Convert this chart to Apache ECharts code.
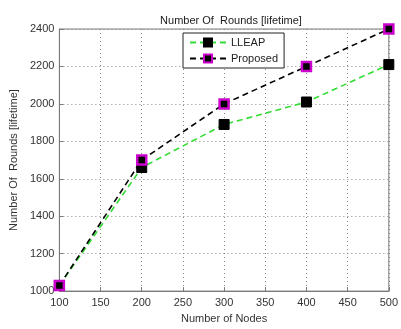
<!DOCTYPE html>
<html>
<head>
<meta charset="utf-8">
<script src="https://cdn.jsdelivr.net/npm/echarts@6/dist/echarts.min.js"></script>
<style>
  html, body { margin: 0; padding: 0; background: #fff; }
  #chart { width: 401px; height: 329px; }
</style>
</head>
<body>
<div id="chart"></div>
<script>
const nodes = [100, 200, 300, 400, 500];
const lleap = [1030, 1660, 1890, 2010, 2210];
const proposed = [1030, 1700, 2000, 2200, 2400];

const font = 'Liberation Sans, Arial, sans-serif';

function pairs(xs, ys) {
  return xs.map((x, i) => [x, ys[i]]);
}

const option = {
  animation: false,
  backgroundColor: '#fff',
  title: {
    text: 'Number Of  Rounds [lifetime]',
    left: 226,
    top: 10,
    textAlign: 'center',
    textStyle: { fontFamily: font, fontSize: 11, fontWeight: 'normal', color: '#222' },
  },
  legend: {
    orient: 'vertical',
    left: 183,
    top: 33,
    padding: [4, 6, 4, 6],
    itemGap: 5,
    itemWidth: 36,
    itemHeight: 10,
    backgroundColor: '#fff',
    borderColor: '#222',
    borderWidth: 1,
    borderRadius: 0,
    textStyle: { fontFamily: font, fontSize: 11, color: '#222' },
    data: ['LLEAP', 'Proposed'],
  },
  grid: {
    left: 57,
    right: 5,
    top: 29,
    bottom: 27,
    show: true,
    borderColor: '#7a7a7a',
    borderWidth: 1,
  },
  xAxis: {
    type: 'value',
    min: 100,
    max: 500,
    interval: 50,
    name: 'Number of Nodes',
    nameLocation: 'middle',
    nameGap: 19,
    nameTextStyle: { fontFamily: font, fontSize: 11, color: '#333' },
    axisLine: { lineStyle: { color: '#7a7a7a' } },
    axisTick: { inside: true, length: 4, lineStyle: { color: '#7a7a7a' } },
    axisLabel: { fontFamily: font, fontSize: 11, color: '#333', margin: 6 },
    splitLine: { show: true, lineStyle: { color: '#888', type: [1, 3] } },
  },
  yAxis: {
    type: 'value',
    min: 1000,
    max: 2400,
    interval: 200,
    name: 'Number Of  Rounds [lifetime]',
    nameLocation: 'middle',
    nameGap: 37,
    nameTextStyle: { fontFamily: font, fontSize: 11, color: '#333' },
    axisLine: { show: true, lineStyle: { color: '#7a7a7a' } },
    axisTick: { show: true, inside: true, length: 4, lineStyle: { color: '#7a7a7a' } },
    axisLabel: {
      fontFamily: font,
      fontSize: 11,
      color: '#333',
      margin: 5,
      formatter: (v) => String(v),
    },
    splitLine: { show: true, lineStyle: { color: '#888', type: [1, 3] } },
  },
  series: [
    {
      name: 'LLEAP',
      type: 'line',
      data: pairs(nodes, lleap),
      symbol: 'rect',
      symbolSize: 10,
      lineStyle: { color: '#33dd33', width: 1.6, type: [6, 4] },
      itemStyle: { color: '#000', borderColor: '#000', borderWidth: 1 },
    },
    {
      name: 'Proposed',
      type: 'line',
      data: pairs(nodes, proposed),
      symbol: 'rect',
      symbolSize: 9,
      lineStyle: { color: '#000', width: 1.6, type: [6, 4] },
      itemStyle: { color: '#000', borderColor: '#cc00cc', borderWidth: 2.5 },
    },
  ],
};

const myChart = echarts.init(document.getElementById('chart'));
myChart.setOption(option);
</script>
</body>
</html>
